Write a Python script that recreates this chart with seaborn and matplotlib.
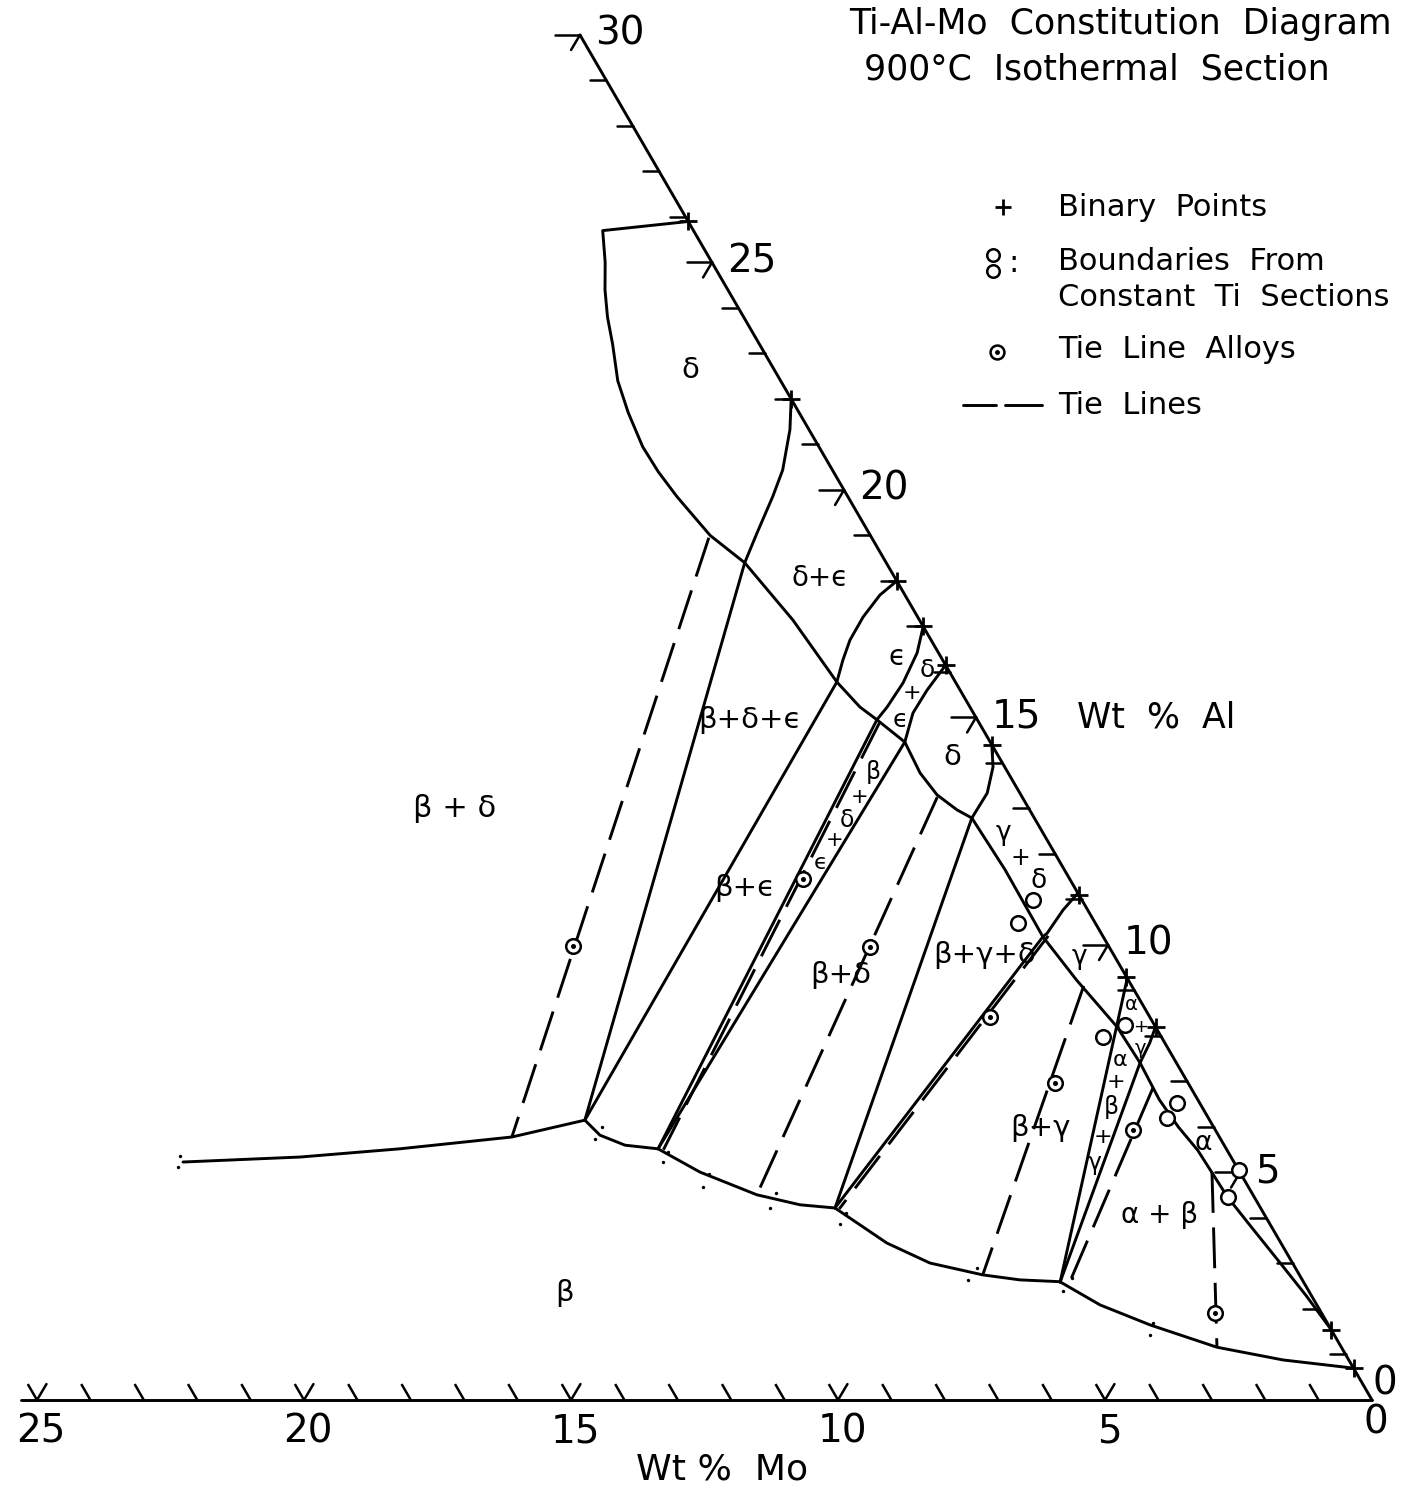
import numpy as np
import pandas as pd
import matplotlib
matplotlib.use("Agg")
import matplotlib.pyplot as plt
import seaborn as sns

# ------------------------------------------------------------------
# Values: compositions given as (wt% Mo, wt% Al)
# ------------------------------------------------------------------
mo_tick_values = list(range(1, 26))
mo_label_values = [25, 20, 15, 10, 5, 0]
al_tick_values = list(range(1, 31))
al_label_values = [30, 25, 20, 15, 10, 5, 0]

binary_points_al = [25.9, 22.0, 18.0, 17.0, 16.15, 14.4, 11.1, 9.3, 8.2, 1.54, 0.7]

# phase boundaries (solid)
delta_upper_boundary = [(0, 25.9), (1.7, 25.7), (2.0, 25.0), (2.3, 24.4), (2.55, 23.8),
                        (2.75, 23.2), (3.05, 22.4), (3.2, 21.7), (3.3, 20.95), (3.28, 20.4),
                        (3.2, 19.85), (3.0, 19.0), (2.65, 18.4)]
main_boundary = [(2.65, 18.4), (2.37, 17.14), (2.22, 15.78), (2.06, 15.23), (1.88, 14.95),
                 (1.6, 14.46), (1.65, 13.78), (1.57, 13.3), (1.36, 12.97), (1.17, 12.79),
                 (1.11, 11.65), (1.13, 10.18), (0.97, 9.23), (0.72, 8.2), (0.68, 7.41),
                 (0.72, 6.6), (0.66, 6.0), (0.55, 5.49), (0.5, 4.46), (0.38, 3.8),
                 (0.23, 3.01), (0.1, 2.3), (0, 1.54)]
delta_eps_boundary = [(0, 22.0), (0.36, 21.32), (0.6, 20.95), (0.93, 20.44), (1.41, 19.85),
                      (2.1, 19.05), (2.65, 18.4)]
eps_left_boundary = [(0, 18.0), (0.47, 17.69), (1.02, 17.21), (1.52, 16.7), (1.87, 16.26),
                     (2.22, 15.78)]
eps_right_boundary = [(0, 17.0), (0.4, 16.42), (0.99, 15.76), (1.55, 15.23), (1.88, 14.95)]
delta_low_upper_boundary = [(0, 16.15), (0.62, 15.6), (1.13, 15.1), (1.6, 14.46)]
delta_low_right_boundary = [(0, 14.4), (0.22, 13.91), (0.61, 13.34), (1.17, 12.79)]
gamma_boundary = [(0, 11.14), (0.46, 10.77), (1.01, 10.26), (1.13, 10.18)]
alpha_boundary = [(0, 8.2), (0.28, 7.85), (0.68, 7.41)]

# three-phase triangle sides (solid straight lines)
tri_bde_delta = [(2.65, 18.4), (11.7, 6.15)]
tri_bde_eps = [(2.22, 15.78), (11.7, 6.15)]
tri_bed_eps = [(1.88, 14.95), (10.64, 5.52)]
tri_bed_delta = [(1.6, 14.46), (10.64, 5.52)]
tri_bgd_delta = [(1.17, 12.79), (7.97, 4.22)]
tri_bgd_gamma = [(1.13, 10.18), (7.97, 4.22)]
tri_abg_gamma = [(0, 9.27), (4.56, 2.59)]
tri_abg_alpha = [(0.68, 7.41), (4.56, 2.59)]

# beta-phase boundary (bottom chain)
beta_bd_boundary = [(19.68, 5.23), (17.43, 5.34), (15.48, 5.52), (13.25, 5.78), (11.7, 6.15)]
beta_be_boundary = [(11.7, 6.15), (11.58, 5.82), (11.22, 5.6), (10.64, 5.52)]
beta_bd2_boundary = [(10.64, 5.52), (10.11, 5.01), (9.29, 4.51), (8.59, 4.29), (7.97, 4.22)]
beta_bg_boundary = [(7.97, 4.22), (7.38, 3.45), (6.79, 3.01), (5.93, 2.75), (5.29, 2.64), (4.56, 2.6)]
beta_ab_boundary = [(4.56, 2.6), (4.06, 2.09), (3.34, 1.65), (2.33, 1.16), (1.23, 0.88), (0, 0.7)]

# tie lines (dashed)
tie_beta_delta_left = [(3.05, 18.95), (13.25, 5.78)]
tie_beta_eps = [(1.85, 14.9), (10.55, 5.5)]
tie_beta_delta_mid = [(1.59, 13.25), (9.29, 4.51)]
tie_beta_gamma_edge = [(1.02, 10.2), (7.9, 4.2)]
tie_beta_gamma = [(0.9, 9.1), (5.93, 2.75)]
tie_alpha_beta_1 = [(0.71, 6.86), (4.45, 2.51)]
tie_alpha_beta_2 = [(0.52, 5.01), (2.33, 1.16)]

# tie line alloys (dotted circles)
alloy_mo = [10.03, 5.0, 4.48, 2.99, 2.49, 1.54, 1.99]
alloy_al = [9.98, 11.45, 9.96, 8.42, 6.97, 5.93, 1.91]

# boundaries from constant Ti sections (open circles)
section_mo = [0.92, 1.45, 0.55, 1.09, 0.43, 0.78, 0.0, 0.49]
section_al = [10.99, 10.48, 8.24, 7.98, 6.53, 6.2, 5.05, 4.46]

# small data dots flanking the beta boundary
dot_mo = [19.67, 19.83, 11.45, 11.72, 10.49, 10.69, 9.96, 10.21, 8.91, 9.19,
          7.82, 8.05, 5.96, 6.26, 4.29, 4.6, 3.26, 3.45]
dot_al = [5.36, 5.12, 6.0, 5.74, 5.45, 5.23, 4.97, 4.68, 4.55, 4.22,
          4.11, 3.87, 2.9, 2.64, 2.68, 2.4, 1.69, 1.43]

# region labels: text, wt% Mo, wt% Al, size
region_labels = [
    ("δ", 1.58, 22.64, 21), ("δ+ϵ", 1.41, 18.07, 20), ("ϵ", 0.82, 16.33, 20),
    ("δ", 0.40, 16.04, 18), ("+", 0.93, 15.54, 16), ("ϵ", 1.45, 14.95, 18),
    ("δ", 0.88, 14.13, 21), ("β+δ+ϵ", 4.26, 14.95, 21), ("β + δ", 10.74, 13.01, 22),
    ("β+ϵ", 6.18, 11.25, 21),
    ("ϵ", 4.50, 11.80, 16), ("+", 3.97, 12.31, 15), ("δ", 3.53, 12.75, 17),
    ("+", 3.04, 13.25, 15), ("β", 2.52, 13.80, 17),
    ("β+δ", 5.34, 9.34, 21), ("β+γ+δ", 2.41, 9.78, 21),
    ("γ", 0.75, 12.45, 19), ("+", 0.70, 11.92, 17), ("δ", 0.60, 11.40, 19),
    ("γ", 0.66, 9.74, 19),
    ("α", 0.20, 8.70, 14), ("+", 0.27, 8.20, 13), ("γ", 0.52, 7.72, 14),
    ("α", 1.02, 7.47, 16), ("+", 1.34, 6.99, 16), ("β", 1.69, 6.44, 17),
    ("+", 2.18, 5.78, 16), ("γ", 2.61, 5.21, 17),
    ("β+γ", 3.26, 5.98, 21), ("α", 0.37, 5.65, 19), ("α + β", 1.96, 4.07, 20),
    ("β", 13.95, 2.35, 21),
]

# ------------------------------------------------------------------
COSF, SINF = 0.4944, 0.8521


def proj(mo, al):
    mo = np.asarray(mo, dtype=float)
    al = np.asarray(al, dtype=float)
    return mo + COSF * al, SINF * al


def frame(curves):
    rows = []
    for name, pts in curves.items():
        for i, (m, a) in enumerate(pts):
            x, y = proj(m, a)
            rows.append({"curve": name, "order": i, "X": float(x), "Y": float(y)})
    return pd.DataFrame(rows)


sns.set_theme(style="white")
plt.rcParams["font.family"] = ["DejaVu Sans"]
plt.rcParams["text.color"] = "black"

fig = plt.figure(figsize=(14.01, 14.92), dpi=100)
ax = fig.add_axes([0, 0, 1, 1])
ax.set_xlim(1372 / 53.4, -29 / 53.4)
ax.set_ylim(-92 / 53.4, 1400 / 53.4)
ax.axis("off")

LW = 2.1
solid = {
    "mo_axis": [(25.3, 0), (0, 0)],
    "al_axis": [(0, 0), (0, 30)],
    "delta_upper": delta_upper_boundary, "main": main_boundary,
    "delta_eps": delta_eps_boundary, "eps_left": eps_left_boundary,
    "eps_right": eps_right_boundary, "delta_low_upper": delta_low_upper_boundary,
    "delta_low_right": delta_low_right_boundary, "gamma": gamma_boundary,
    "alpha": alpha_boundary,
    "t1": tri_bde_delta, "t2": tri_bde_eps, "t3": tri_bed_eps, "t4": tri_bed_delta,
    "t5": tri_bgd_delta, "t6": tri_bgd_gamma, "t7": tri_abg_gamma, "t8": tri_abg_alpha,
    "b1": beta_bd_boundary, "b2": beta_be_boundary, "b3": beta_bd2_boundary,
    "b4": beta_bg_boundary, "b5": beta_ab_boundary,
}
sns.lineplot(data=frame(solid), x="X", y="Y", units="curve", estimator=None, sort=False,
             color="black", linewidth=LW, ax=ax, legend=False)

dashed = {
    "d1": tie_beta_delta_left, "d2": tie_beta_eps, "d3": tie_beta_delta_mid,
    "d4": tie_beta_gamma_edge, "d5": tie_beta_gamma, "d6": tie_alpha_beta_1,
    "d7": tie_alpha_beta_2,
}
sns.lineplot(data=frame(dashed), x="X", y="Y", units="curve", estimator=None, sort=False,
             color="black", linewidth=LW, linestyle=(0, (14, 5)), ax=ax, legend=False)

# axis ticks
tl = 0.35
for m in mo_tick_values:
    x, y = proj([m, m], [0, tl])
    ax.plot(x, y, color="black", lw=1.8, solid_capstyle="butt")
    if m % 5 == 0:
        x, y = proj([m, m - tl], [0, tl])
        ax.plot(x, y, color="black", lw=1.8)
for a in al_tick_values:
    if a % 5 == 0:
        x, y = proj([0, 0.47], [a, a])
        ax.plot(x, y, color="black", lw=1.8)
        x, y = proj([0, 0.33], [a, a - 0.33])
        ax.plot(x, y, color="black", lw=1.8)
    else:
        x, y = proj([0, 0.3], [a, a])
        ax.plot(x, y, color="black", lw=1.8)

# tick labels
for m in mo_label_values:
    x, y = proj(m, 0)
    dy = -16 if m == 0 else -23
    ax.annotate(str(m), (x, y), xytext=(3, dy), textcoords="offset points",
                ha="center", va="center", fontsize=28)
for a in al_label_values:
    x, y = proj(0, a)
    if a == 0:
        ax.annotate(str(a), (x, y), xytext=(9, 12), textcoords="offset points",
                    ha="center", va="center", fontsize=28)
    else:
        ax.annotate(str(a), (x, y), xytext=(11, 1), textcoords="offset points",
                    ha="left", va="center", fontsize=28)

# binary points
bx, by = proj(np.zeros(len(binary_points_al)), binary_points_al)
sns.scatterplot(x=bx, y=by, marker="+", s=150, color="black", linewidth=2.0, ax=ax,
                zorder=5, legend=False)

# small data dots
dx_, dy_ = proj(dot_mo, dot_al)
sns.scatterplot(x=dx_, y=dy_, s=6, color="black", linewidth=0, ax=ax, zorder=5, legend=False)

# boundary circles
cx, cy = proj(section_mo, section_al)
ax.plot(cx, cy, "o", ms=10.5, mfc="white", mec="black", mew=1.8, ls="none", zorder=6)

# tie line alloys
tx, ty = proj(alloy_mo, alloy_al)
ax.plot(tx, ty, "o", ms=10.5, mfc="white", mec="black", mew=1.8, ls="none", zorder=6)
ax.plot(tx, ty, "o", ms=2.6, color="black", ls="none", zorder=7)

# region labels
for txt, m, a, fs in region_labels:
    x, y = proj(m, a)
    ax.text(x, y, txt, ha="center", va="center", fontsize=fs, zorder=8)

# ------------------------------------------------------------------
# title, axis titles and legend (layout in figure pixels)
lay = fig.add_axes([0, 0, 1, 1])
lay.set_xlim(0, 1401)
lay.set_ylim(1492, 0)
lay.axis("off")
lay.patch.set_alpha(0)

lay.text(1120, 24, "Ti-Al-Mo  Constitution  Diagram", ha="center", va="center", fontsize=25)
lay.text(1097, 70, "900°C  Isothermal  Section", ha="center", va="center", fontsize=25)
lay.text(1077, 717, "Wt  %  Al", ha="left", va="center", fontsize=25)
lay.text(722, 1470, "Wt %  Mo", ha="center", va="center", fontsize=26)

lay.plot([1003], [207], "+", ms=12, mew=2.0, color="black")
lay.text(1058, 207, "Binary  Points", ha="left", va="center", fontsize=22)
lay.plot([993, 993], [255, 271], "o", ms=9, mfc="white", mec="black", mew=1.8)
lay.text(1014, 263, ":", ha="center", va="center", fontsize=22)
lay.text(1058, 262, "Boundaries  From", ha="left", va="center", fontsize=22)
lay.text(1058, 297, "Constant  Ti  Sections", ha="left", va="center", fontsize=22)
lay.plot([997], [352], "o", ms=10, mfc="white", mec="black", mew=1.8)
lay.plot([997], [352], "o", ms=2.5, color="black")
lay.text(1058, 350, "Tie  Line  Alloys", ha="left", va="center", fontsize=22)
lay.plot([963, 996], [405, 405], color="black", lw=LW)
lay.plot([1005, 1042], [405, 405], color="black", lw=LW)
lay.text(1058, 405, "Tie  Lines", ha="left", va="center", fontsize=22)

fig.savefig("out.png", dpi=100, facecolor="white")
